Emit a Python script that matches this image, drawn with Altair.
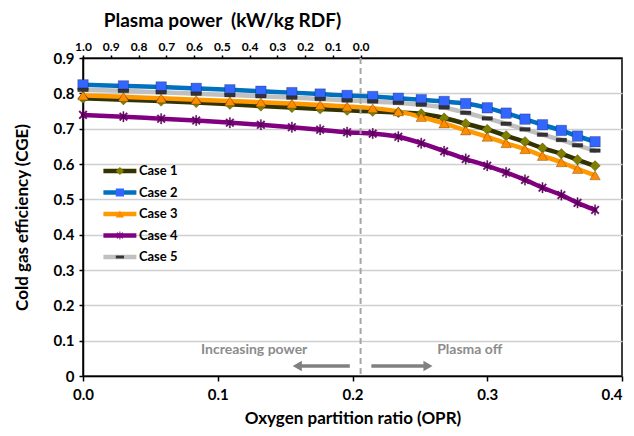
import altair as alt
import pandas as pd

# ---- data ----
opr = [0.000, 0.030, 0.058, 0.084, 0.109, 0.132, 0.155, 0.176, 0.196, 0.215, 0.234,
       0.251, 0.268, 0.284, 0.300, 0.314, 0.328, 0.341, 0.355, 0.367, 0.380]
case1 = [0.786, 0.782, 0.778, 0.774, 0.769, 0.764, 0.760, 0.756, 0.752, 0.749, 0.746,
         0.742, 0.730, 0.714, 0.698, 0.680, 0.663, 0.645, 0.629, 0.612, 0.595]
case2 = [0.824, 0.821, 0.818, 0.814, 0.810, 0.806, 0.802, 0.798, 0.794, 0.791, 0.786,
         0.782, 0.777, 0.771, 0.759, 0.744, 0.727, 0.711, 0.695, 0.679, 0.663]
case3 = [0.794, 0.790, 0.786, 0.782, 0.778, 0.775, 0.771, 0.767, 0.763, 0.758, 0.749,
         0.733, 0.715, 0.695, 0.677, 0.659, 0.642, 0.623, 0.605, 0.586, 0.568]
case4 = [0.739, 0.734, 0.728, 0.723, 0.717, 0.711, 0.704, 0.697, 0.690, 0.686, 0.677,
         0.659, 0.636, 0.614, 0.595, 0.576, 0.555, 0.533, 0.512, 0.490, 0.470]
case5 = [0.810, 0.807, 0.803, 0.799, 0.795, 0.792, 0.788, 0.784, 0.780, 0.777, 0.773,
         0.768, 0.760, 0.745, 0.729, 0.714, 0.698, 0.683, 0.668, 0.653, 0.638]
case_names = ["Case 1", "Case 2", "Case 3", "Case 4", "Case 5"]

x_ticks = [0.0, 0.1, 0.2, 0.3, 0.4]
y_ticks = [0.0, 0.1, 0.2, 0.3, 0.4, 0.5, 0.6, 0.7, 0.8, 0.9]
power_ticks = [1.0, 0.9, 0.8, 0.7, 0.6, 0.5, 0.4, 0.3, 0.2, 0.1, 0.0]
plasma_off_power = [0.0]
power_domain = [1.0, -0.9417]   # power axis aligned with OPR 0 .. 0.4

ann_text = ["Increasing power", "Plasma off"]
ann_x = [0.127, 0.287]
ann_y = [0.073, 0.073]
arrow_x1 = [0.198, 0.214]
arrow_x2 = [0.159, 0.256]
arrow_y = [0.028, 0.028]
arrow_head = ["triangle-left", "triangle-right"]

# ---- styles ----
FONT = "Lato"
line_colors = ["#333300", "#0070C0", "#FF9900", "#800080", "#C0C0C0"]
marker_fills = ["#808000", "#3366FF", "#FF8C00", "#800080", "#333333"]
asterisk = ("M-0.12,-1H0.12V1H-0.12Z "
            "M-0.601,-0.813L0.813,0.601L0.601,0.813L-0.813,-0.601Z "
            "M0.813,-0.601L-0.601,0.813L-0.813,0.601L0.601,-0.813Z")
dash = "M-1,-0.35H1V0.35H-1Z"
marker_shapes = ["diamond", "square", "triangle-up", asterisk, dash]

rows = []
for name, vals in zip(case_names, [case1, case2, case3, case4, case5]):
    for xv, yv in zip(opr, vals):
        rows.append({"opr": xv, "cge": yv, "case": name, "case_m": name})
df = pd.DataFrame(rows)

x_axis = alt.Axis(values=x_ticks, format=".1f", title="Oxygen partition ratio (OPR)",
                  grid=False, tickSize=5, labelPadding=6, titlePadding=8, labelFlush=False,
                  labelAlign={"condition": {"test": "datum.value > 0.39", "value": "right"},
                              "value": "center"})
y_axis = alt.Axis(values=y_ticks, format="~g", title="Cold gas efficiency (CGE)",
                  grid=True, tickSize=4, labelPadding=5, titlePadding=22, labelOverlap=False)
x_scale = alt.Scale(domain=[0, 0.4], nice=False)
y_scale = alt.Scale(domain=[0, 0.9], nice=False)
X = alt.X("opr:Q", scale=x_scale, axis=x_axis)
Y = alt.Y("cge:Q", scale=y_scale, axis=y_axis)

LEG_X, LEG_Y = 18, 106
legend_common = dict(orient="none", legendX=LEG_X, legendY=LEG_Y, title=None,
                     symbolSize=68, symbolOffset=12.4, clipHeight=14, rowPadding=7.5,
                     labelFont=FONT, labelFontSize=13, labelFontWeight="bold",
                     labelColor="black", labelOffset=12.5, padding=0)

lines = alt.Chart(df).mark_line(strokeWidth=4.5, interpolate="monotone", strokeCap="round").encode(
    x=X, y=Y,
    stroke=alt.Stroke("case:N", scale=alt.Scale(range=line_colors),
                      legend=alt.Legend(symbolType="M-4,0H4", symbolStrokeWidth=4.5,
                                        **legend_common)),
    detail="case:N",
)

marker_legend = alt.Legend(labelExpr="''", symbolStrokeWidth=0, symbolOpacity=1, **legend_common)
points = alt.Chart(df).mark_point(filled=True, size=110, stroke="#000000", strokeOpacity=0.3,
                                  strokeWidth=0.8, opacity=1).encode(
    x=X, y=Y,
    fill=alt.Fill("case_m:N", scale=alt.Scale(range=marker_fills), legend=marker_legend),
    shape=alt.Shape("case_m:N", scale=alt.Scale(range=marker_shapes), legend=marker_legend),
)

ann_df = pd.DataFrame({"text": ann_text, "opr": ann_x, "cge": ann_y})
texts = alt.Chart(ann_df).mark_text(font=FONT, fontSize=14, fontWeight="bold",
                                    color="#8c8c8c").encode(
    x=X, y=Y, text="text:N")

arr_df = pd.DataFrame({"opr": arrow_x1, "opr2": arrow_x2, "cge": arrow_y, "head": arrow_head})
shafts = alt.Chart(arr_df).mark_rule(strokeWidth=3.5, color="#808080").encode(
    x=X, x2="opr2:Q", y=Y)
heads = alt.Chart(arr_df).mark_point(filled=True, size=110, color="#808080", opacity=1).encode(
    x=alt.X("opr2:Q", scale=x_scale, axis=x_axis), y=Y,
    shape=alt.Shape("head:N", scale=None, legend=None))

main = alt.layer(lines, points, texts, shafts, heads)

top = alt.Chart(pd.DataFrame({"power": plasma_off_power})).mark_rule(
    color="#a6a6a6", strokeWidth=2, strokeDash=[6, 4]).encode(
    x=alt.X("power:Q", scale=alt.Scale(domain=power_domain, nice=False, zero=False),
            axis=alt.Axis(orient="top", values=power_ticks, format=".1f",
                          title="Plasma power\u00a0 (kW/kg RDF)", grid=False, labelFlush=False,
                          labelFontSize=12, tickSize=3, labelPadding=2,
                          titleFontSize=19, titleX=139, titleY=-32, titleAlign="center",
                          titleBaseline="alphabetic")))

chart = alt.layer(main, top).resolve_scale(x="independent").properties(
    width=618, height=420, background="white",
    padding={"left": 5, "top": 3, "right": 3, "bottom": 2},
    autosize=alt.AutoSizeParams(type="fit", contains="padding"),
).configure_axis(
    domainColor="black", domainWidth=1.5, tickColor="black", tickWidth=1.5,
    labelFont=FONT, labelFontSize=15, labelFontWeight="bold", labelColor="black",
    titleFont=FONT, titleFontSize=17, titleFontWeight="bold", titleColor="black",
    gridColor="#cfcfcf", gridWidth=1.5,
).configure_view(stroke="black", strokeWidth=1.5)

chart.save("out.html", embed_options={"renderer": "svg", "actions": False})
